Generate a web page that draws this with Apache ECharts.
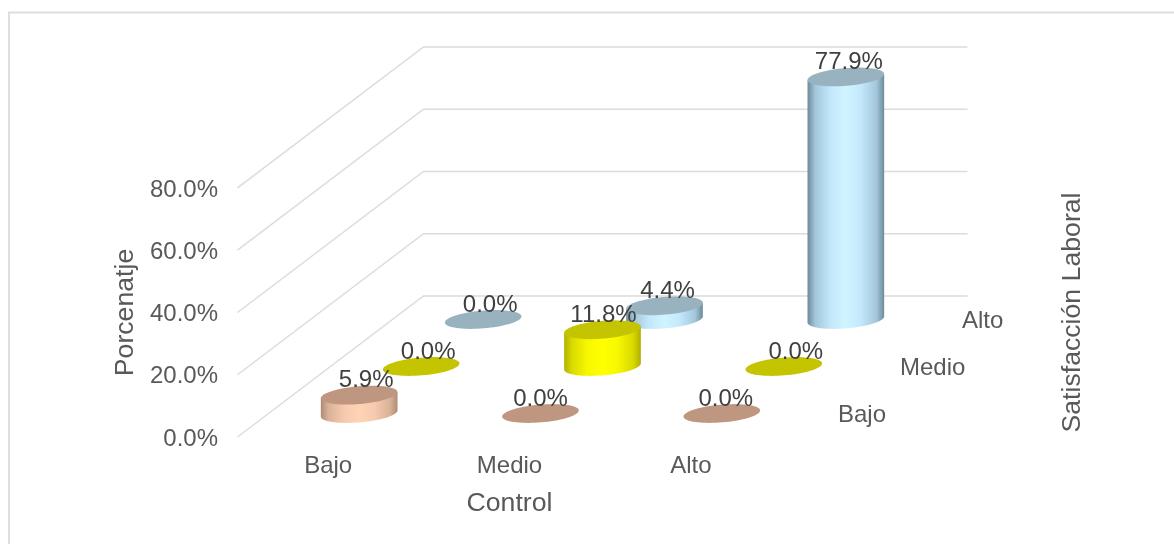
<!DOCTYPE html>
<html>
<head>
<meta charset="utf-8">
<style>html,body{margin:0;padding:0;background:#fff}#c{width:1174px;height:544px}</style>
<script src="https://cdn.jsdelivr.net/npm/echarts@6/dist/echarts.min.js"></script>
</head>
<body>
<div id="c"></div>
<script>
const controlCategories = ['Bajo', 'Medio', 'Alto'];
const satisfactionLevels = ['Bajo', 'Medio', 'Alto'];
const valuesSatisfBajo = [5.9, 0.0, 0.0];
const valuesSatisfMedio = [0.0, 11.8, 0.0];
const valuesSatisfAlto = [0.0, 4.4, 77.9];
const percentTicks = [0, 20, 40, 60, 80];

// Oblique projection of the depth axis onto the two value axes
const PX_X = 544 / 3, PX_Y = 3.1125;
const DEPTH_X = 62 / PX_X, DEPTH_Y = 47 / PX_Y, ROWS = 3, RADIUS = 0.2;
const FONT = '"Liberation Sans", Arial, sans-serif';
const project = (api, x, v, d) => api.coord([x + d * DEPTH_X, v + d * DEPTH_Y]);

const gradientOffsets = [0, 0.1, 0.3, 0.5, 0.7, 0.9, 1];
const rowStyles = [
  { top: '#BF967F', stops: ['#B08A74', '#D9B298', '#F5CAAE', '#FFD3B6', '#F5CAAE', '#D9B298', '#B08A74'] },
  { top: '#C4C400', stops: ['#B0B000', '#D9D900', '#F7F700', '#FFFF00', '#F7F700', '#D9D900', '#B0B000'] },
  { top: '#99B2C0', stops: ['#6E8A9A', '#A3C6DA', '#C3E8FB', '#D0F4FF', '#C3E8FB', '#A3C6DA', '#6E8A9A'] }
];
// Excel's hand-placed horizontal label shifts (px), per satisfaction row and control column
const labelShift = [[7, 0, 4], [7, 1, 12], [7, 3, 3]];

function ellipse(api, cx, v, d, from, to, n) {
  const pts = [];
  for (let k = 0; k <= n; k++) {
    const t = from + (to - from) * k / n;
    pts.push(project(api, cx + RADIUS * Math.cos(t), v, d + RADIUS * Math.sin(t)));
  }
  return pts;
}

function barRenderer(row) {
  const st = rowStyles[row];
  return function (params, api) {
    const cx = api.value(0) + 0.5, v = api.value(1), d = row + 0.5;
    const t0 = Math.atan(DEPTH_X);
    const children = [];
    if (v > 0) {
      const front = ellipse(api, cx, 0, d, t0 + Math.PI, t0 + 2 * Math.PI, 40);
      const top = ellipse(api, cx, v, d, t0 + Math.PI, t0 + 2 * Math.PI, 40);
      const pts = [top[0]].concat(front, [top[top.length - 1]]);
      children.push({
        type: 'polygon', shape: { points: pts },
        style: {
          fill: new echarts.graphic.LinearGradient(0, 0, 1, 0,
            gradientOffsets.map((o, i) => ({ offset: o, color: st.stops[i] })))
        }
      });
    }
    children.push({
      type: 'polygon', shape: { points: ellipse(api, cx, v, d, 0, Math.PI * 2, 72) },
      style: { fill: st.top }
    });
    return { type: 'group', children };
  };
}

const barSeries = [valuesSatisfBajo, valuesSatisfMedio, valuesSatisfAlto].map((vals, row) => ({
  row, vals
})).reverse().map(({ row, vals }, order) => ({
  type: 'custom', name: satisfactionLevels[row], xAxisIndex: 1, yAxisIndex: 0,
  coordinateSystem: 'cartesian2d', z: 3 + order, silent: true,
  data: vals.map((v, i) => [i, v]),
  renderItem: barRenderer(row)
}));

const labelData = [];
[valuesSatisfBajo, valuesSatisfMedio, valuesSatisfAlto].forEach((vals, row) =>
  vals.forEach((v, i) => labelData.push([i, v, row])));

const option = {
  animation: false,
  backgroundColor: '#fff',
  textStyle: { fontFamily: FONT },
  grid: { left: 237.5, top: 46, width: 544, height: 391 },
  xAxis: [
    {
      type: 'category', data: controlCategories, position: 'bottom',
      axisLine: { show: false }, axisTick: { show: false },
      axisLabel: { color: '#595959', fontSize: 24, fontFamily: FONT, margin: 17 },
      name: 'Control', nameLocation: 'middle', nameGap: 53,
      nameTextStyle: { color: '#595959', fontSize: 26.67, fontFamily: FONT }
    },
    { type: 'value', min: 0, max: 3, show: false }
  ],
  yAxis: [
    {
      type: 'value', min: 0, max: 125.6, interval: 20,
      axisLine: { show: false }, axisTick: { show: false }, splitLine: { show: false },
      axisLabel: {
        color: '#595959', fontSize: 24, fontFamily: FONT, margin: 19.5,
        showMaxLabel: false,
        rich: { t: { color: '#595959', fontSize: 24, fontFamily: FONT, padding: [4, 0, 0, 0] } },
        formatter: v => (percentTicks.includes(v) ? '{t|' + v.toFixed(1) + '%}' : '')
      },
      name: 'Porcenatje', nameLocation: 'middle', nameGap: 98, nameRotate: 90,
      nameTextStyle: { color: '#595959', fontSize: 26.67, fontFamily: FONT, padding: [0, 142, 0, 0] }
    },
    {
      type: 'value', min: 0, max: 125.6, position: 'right',
      axisLine: { show: false }, axisTick: { show: false }, splitLine: { show: false },
      axisLabel: { show: false },
      name: 'Satisfacción Laboral', nameLocation: 'middle', nameGap: 277.5, nameRotate: 90,
      nameTextStyle: { color: '#595959', fontSize: 26.67, fontFamily: FONT, padding: [0, 142, 0, 0] }
    }
  ],
  graphic: [{
    type: 'rect', z: -1, silent: true,
    shape: { x: 9, y: 12.5, width: 1200, height: 600 },
    style: { fill: '#fff', stroke: '#DEDEDE', lineWidth: 2 }
  }],
  series: [
    {
      type: 'custom', name: 'walls', xAxisIndex: 1, yAxisIndex: 0, z: 2, silent: true,
      data: percentTicks.map(v => [v]),
      renderItem(params, api) {
        const v = api.value(0);
        const pts = [project(api, 0, v, 0), project(api, 0, v, ROWS), project(api, ROWS, v, ROWS)];
        return { type: 'polyline', shape: { points: pts }, style: { fill: 'none', stroke: '#DCDCDC', lineWidth: 1.5 } };
      }
    },
    ...barSeries,
    {
      type: 'custom', name: 'depth', xAxisIndex: 1, yAxisIndex: 0, z: 7, silent: true,
      data: satisfactionLevels.map((s, i) => [i]),
      renderItem(params, api) {
        const i = api.value(0);
        const p = project(api, ROWS, 0, i + 0.5);
        return {
          type: 'text', x: p[0] + 25.5, y: p[1] + 1.5,
          style: { text: satisfactionLevels[i], fill: '#595959', font: '24px ' + FONT, textAlign: 'left', textVerticalAlign: 'middle' }
        };
      }
    },
    {
      type: 'custom', name: 'values', xAxisIndex: 1, yAxisIndex: 0, z: 8, silent: true,
      data: labelData,
      renderItem(params, api) {
        const i = api.value(0), v = api.value(1), row = api.value(2);
        const p = project(api, i + 0.5, v, row + 0.5);
        return {
          type: 'text', x: p[0] + labelShift[row][i], y: p[1] - 14.5,
          style: { text: v.toFixed(1) + '%', fill: '#404040', font: '24px ' + FONT, textAlign: 'center', textVerticalAlign: 'middle' }
        };
      }
    }
  ]
};
echarts.init(document.getElementById('c'), null, { renderer: 'canvas' }).setOption(option);
</script>
</body>
</html>
